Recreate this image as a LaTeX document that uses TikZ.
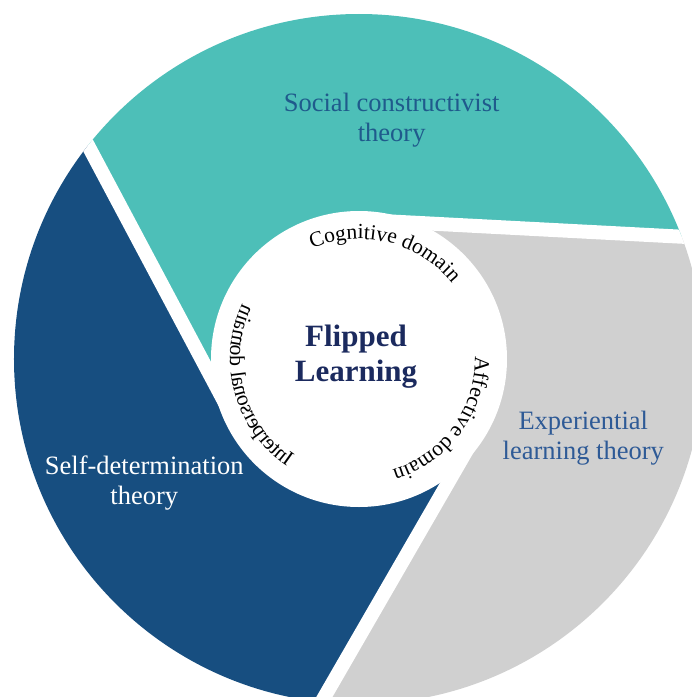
\documentclass[tikz,border=0pt]{standalone}
\usepackage{fontspec}
\setmainfont{Liberation Serif}
\usetikzlibrary{calc,decorations.text}
\definecolor{tealseg}{HTML}{4DBFB8}
\definecolor{blueseg}{HTML}{174E80}
\definecolor{grayseg}{HTML}{D0D0D0}
\definecolor{tealtext}{HTML}{1F5A8C}
\definecolor{graytext}{HTML}{2E5A96}
\definecolor{navytext}{HTML}{1B2A5E}
\newcommand{\curvfnt}{\fontsize{21.5}{24}\selectfont}
\begin{document}
\begin{tikzpicture}[x=1pt,y=1pt,
  gapline/.style={white, line width=14pt},
  seglabel/.style={align=center, inner sep=0pt, font=\fontsize{26.5}{30}\selectfont},
  curvetext/.style={decorate, decoration={text along path, text align=center, text={|\curvfnt|#1}}}
]
\useasboundingbox (-359,-338) rectangle (333,359);
\coordinate (O) at (0,0);
\coordinate (F1) at (208:139);
\coordinate (F2) at (87:139);
\coordinate (F3) at (330:139);
\coordinate (R1) at ($(F1)+(118:600)$);
\coordinate (R2) at ($(F2)+(-3:600)$);
\coordinate (R3) at ($(F3)+(240:600)$);
\begin{scope}
  \clip (O) circle (345);
  \fill[tealseg] (O) -- (F2) -- (R2) -- (50:900) -- (90:900) -- (R1) -- (F1) -- cycle;
  \fill[blueseg] (O) -- (F1) -- (R1) -- (170:900) -- (210:900) -- (R3) -- (F3) -- cycle;
  \fill[grayseg] (O) -- (F3) -- (R3) -- (290:900) -- (330:900) -- (R2) -- (F2) -- cycle;
  \draw[gapline] (F1) -- (R1);
  \draw[gapline] (F2) -- (R2);
  \draw[gapline] (F3) -- (R3);
\end{scope}
\fill[white] (O) circle (148);
\node[seglabel, text=tealtext] (soc) at (32.7,238.4) {Social constructivist\\theory};
\node[seglabel, text=graytext] (exp) at (224.3,-79.4) {Experiential\\learning theory};
\node[seglabel, text=white] (sdt) at (-214.7,-124) {Self-determination\\theory};
\node[align=center, inner sep=0pt, font=\fontsize{31}{35}\selectfont\bfseries, text=navytext] (fl) at (-3,2.1) {Flipped\\Learning};
\path[curvetext={Cognitive domain}] (115:120) arc[start angle=115, end angle=37, radius=120];
\path[curvetext={Affective domain}] (3:116) arc[start angle=3, end angle=-75, radius=116];
\begin{scope}[transform canvas={xscale=-1}]
  \path[curvetext={Interpersonal domain}] (-62:129) arc[start angle=-62, end angle=31, radius=129];
\end{scope}
\end{tikzpicture}
\end{document}
